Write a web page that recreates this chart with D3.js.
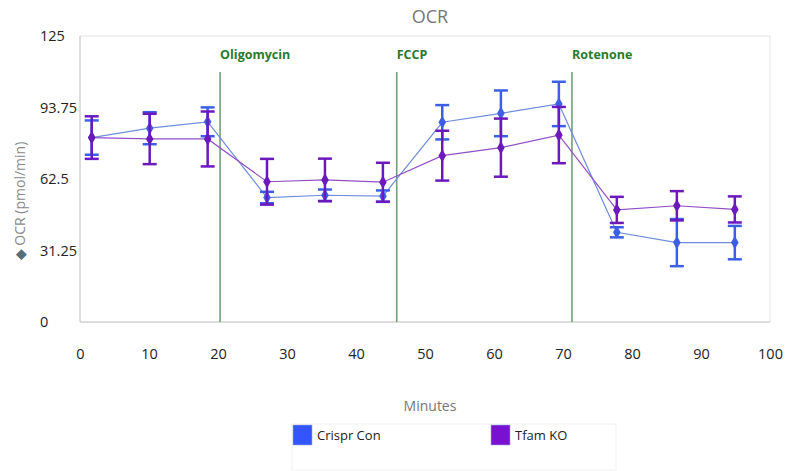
<!DOCTYPE html>
<html>
<head>
<meta charset="utf-8">
<script src="https://cdn.jsdelivr.net/npm/d3@7"></script>
<style>
  body { margin: 0; background: #fff; }
  text { font-family: "Open Sans", "Noto Sans", sans-serif; }
</style>
</head>
<body>
<script>
// chart data
const minutes = [1.7, 10.1, 18.5, 27.1, 35.5, 43.9, 52.5, 61.0, 69.4, 77.8, 86.5, 94.9];
const crisprCon = [80.6, 84.7, 87.5, 54.4, 55.4, 55.0, 87.3, 91.2, 95.3, 39.2, 34.7, 34.7];
const crisprErr = [7.5, 7.0, 6.3, 2.5, 2.5, 2.5, 7.5, 10.0, 9.7, 2.2, 10.3, 7.3];
const tfamKO = [80.6, 80.0, 80.0, 61.3, 62.1, 61.1, 72.7, 76.2, 81.7, 49.0, 50.8, 49.2];
const tfamErr = [9.3, 11.0, 12.0, 10.0, 9.3, 8.5, 10.9, 12.7, 12.3, 5.7, 6.4, 5.7];
const injections = [
  { label: "Oligomycin", x: 20.3 },
  { label: "FCCP", x: 45.9 },
  { label: "Rotenone", x: 71.3 }
];
const yTicks = [0, 31.25, 62.5, 93.75, 125];
const xTicks = [0, 10, 20, 30, 40, 50, 60, 70, 80, 90, 100];

const width = 786, height = 471;
const plotL = 80, plotR = 770, plotT = 36, plotB = 322;

const svg = d3.select("body").append("svg")
  .attr("width", width)
  .attr("height", height);

const x = d3.scaleLinear().domain([0, 100]).range([plotL, plotR]);
const y = d3.scaleLinear().domain([0, 125]).range([plotB, plotT]);

// title
svg.append("text")
  .attr("x", 430).attr("y", 23)
  .attr("text-anchor", "middle")
  .attr("fill", "#777")
  .style("font-size", "18px")
  .text("OCR");

// plot frame
svg.append("rect")
  .attr("x", plotL).attr("y", plotT)
  .attr("width", plotR - plotL).attr("height", plotB - plotT)
  .attr("fill", "none")
  .attr("stroke", "#e3e3e3");
svg.append("line")
  .attr("x1", plotL).attr("x2", plotL).attr("y1", plotT).attr("y2", plotB)
  .attr("stroke", "#c8c8c8");
svg.append("line")
  .attr("x1", plotL).attr("x2", plotR).attr("y1", plotB).attr("y2", plotB)
  .attr("stroke", "#c8c8c8");

// axes
const yAxis = svg.append("g")
  .attr("transform", `translate(${plotL},0)`)
  .call(d3.axisLeft(y).tickValues(yTicks).tickSize(0).tickFormat(d => String(d)));
yAxis.select(".domain").remove();
yAxis.selectAll("text")
  .attr("x", 40 - plotL)
  .attr("text-anchor", "start")
  .attr("fill", "#222")
  .style("font-size", "14.5px")
  .style("font-family", "'Open Sans', sans-serif");

const xAxis = svg.append("g")
  .attr("transform", `translate(0,${plotB})`)
  .call(d3.axisBottom(x).tickValues(xTicks).tickSize(0));
xAxis.select(".domain").remove();
xAxis.selectAll("text")
  .attr("y", 27)
  .attr("fill", "#222")
  .style("font-size", "14.5px")
  .style("font-family", "'Open Sans', sans-serif");

// axis titles
const yTitle = svg.append("text")
  .attr("transform", "translate(25,201) rotate(-90)")
  .attr("text-anchor", "middle")
  .style("font-size", "14px");
yTitle.append("tspan").attr("fill", "#546e7a").text("◆ ");
yTitle.append("tspan").attr("fill", "#8a8a8a").text("OCR (pmol/min)");

svg.append("text")
  .attr("x", 430).attr("y", 411)
  .attr("text-anchor", "middle")
  .attr("fill", "#777")
  .style("font-size", "14px")
  .text("Minutes");

// injection markers
const inj = svg.append("g");
inj.selectAll("line")
  .data(injections)
  .join("line")
  .attr("x1", d => x(d.x)).attr("x2", d => x(d.x))
  .attr("y1", 72).attr("y2", plotB)
  .attr("stroke", "#6f9f78")
  .attr("stroke-width", 1.6);
inj.selectAll("text")
  .data(injections)
  .join("text")
  .attr("x", d => x(d.x))
  .attr("y", 59)
  .attr("fill", "#2a7a2e")
  .style("font-size", "12.5px")
  .style("font-weight", "bold")
  .text(d => d.label);

// series
const series = [
  { name: "Crispr Con", values: crisprCon, err: crisprErr, line: "#6f8ddc", mark: "#3d5fe6", legend: "#3355ff" },
  { name: "Tfam KO", values: tfamKO, err: tfamErr, line: "#9050c4", mark: "#6b18bd", legend: "#7a10d0" }
];

const line = d3.line().x(d => x(d[0])).y(d => y(d[1]));
const diamond = d3.symbol().type(d3.symbolDiamond).size(50);

series.forEach(s => {
  const pts = minutes.map((m, i) => [m, s.values[i], s.err[i]]);
  const g = svg.append("g");

  g.append("path")
    .datum(pts)
    .attr("d", line)
    .attr("fill", "none")
    .attr("stroke", s.line)
    .attr("stroke-width", 1.2);

  const bars = g.selectAll(".err")
    .data(pts)
    .join("g")
    .attr("stroke", s.mark)
    .attr("stroke-width", 2.5);
  bars.append("line")
    .attr("x1", d => x(d[0])).attr("x2", d => x(d[0]))
    .attr("y1", d => y(d[1] - d[2])).attr("y2", d => y(d[1] + d[2]));
  bars.append("line")
    .attr("x1", d => x(d[0]) - 7).attr("x2", d => x(d[0]) + 7)
    .attr("y1", d => y(d[1] + d[2])).attr("y2", d => y(d[1] + d[2]));
  bars.append("line")
    .attr("x1", d => x(d[0]) - 7).attr("x2", d => x(d[0]) + 7)
    .attr("y1", d => y(d[1] - d[2])).attr("y2", d => y(d[1] - d[2]));

  g.selectAll(".pt")
    .data(pts)
    .join("path")
    .attr("transform", d => `translate(${x(d[0])},${y(d[1])})`)
    .attr("d", diamond)
    .attr("fill", s.mark);
});

// legend
const legend = svg.append("g");
legend.append("rect")
  .attr("x", 292).attr("y", 424)
  .attr("width", 324).attr("height", 46)
  .attr("fill", "none")
  .attr("stroke", "#f2f2f2");
const legendX = [293, 491];
series.forEach((s, i) => {
  legend.append("rect")
    .attr("x", legendX[i]).attr("y", 425)
    .attr("width", 19).attr("height", 20)
    .attr("fill", s.legend)
    .attr("stroke", "#9aa8e8")
    .attr("stroke-width", 0.6);
  legend.append("text")
    .attr("x", legendX[i] + 24).attr("y", 440)
    .attr("fill", "#222")
    .style("font-size", "13px")
    .text(s.name);
});
</script>
</body>
</html>
